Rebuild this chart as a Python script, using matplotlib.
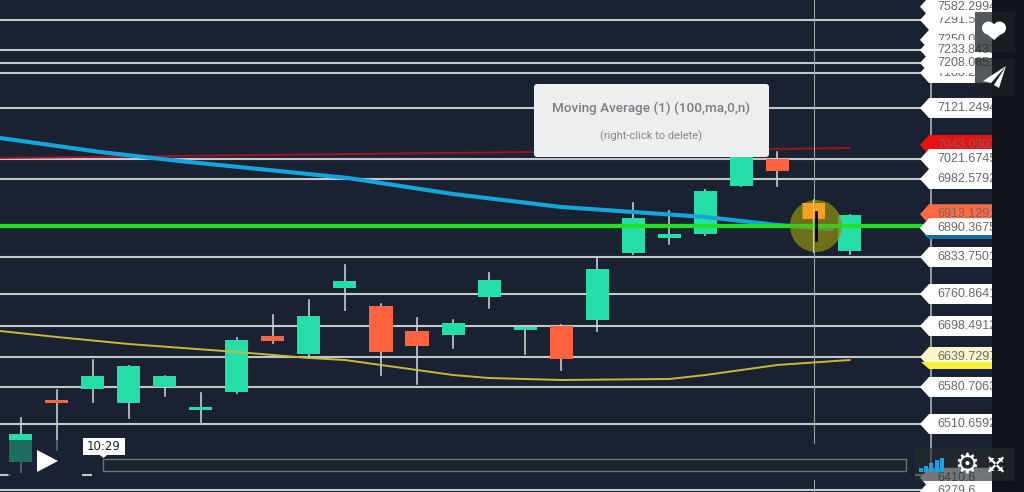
import matplotlib
matplotlib.use("Agg")
import matplotlib.pyplot as plt
from matplotlib.patches import Rectangle, Polygon, Circle, FancyBboxPatch

W, H = 1024, 492
BG = "#1a2130"
PANEL = "#12141c"
GREEN = "#26dfa8"
RED = "#ff6340"
ORANGE = "#f7a021"

# candles, prices
opens = [6434.4, 6554.2, 6575.5, 6548.4, 6579.4, 6534.9, 6569.7, 6677.9, 6643.1, 6770.6, 6735.8, 6687.5,
         6679.8, 6753.2, 6689.5, 6697.2, 6708.8, 6838.2, 6867.2, 6874.9, 6967.7, 7019.8, 6934.8, 6842.1]
closes = [6488.5, 6548.4, 6600.6, 6619.9, 6600.6, 6540.7, 6670.2, 6668.2, 6716.5, 6784.1, 6647.0, 6658.6,
          6703.0, 6786.1, 6695.3, 6633.4, 6807.3, 6905.9, 6874.9, 6958.0, 7037.2, 6996.7, 6903.9, 6911.7]
highs = [6519.5, 6573.6, 6631.5, 6619.9, 6600.6, 6567.8, 6674.0, 6718.5, 6747.4, 6815.1, 6739.7, 6712.7,
         6708.8, 6799.6, 6695.3, 6699.1, 6828.6, 6934.8, 6919.4, 6960.0, 7037.2, 7033.4, 6940.6, 6911.7]
lows = [6409.4, 6457.6, 6550.4, 6519.5, 6562.0, 6511.7, 6567.8, 6664.4, 6637.3, 6728.1, 6602.5, 6585.1,
        6654.7, 6732.0, 6643.1, 6612.2, 6687.5, 6836.3, 6855.6, 6873.0, 6967.7, 6967.7, 6863.4, 6836.3]
candle_colors = [GREEN, RED, GREEN, GREEN, GREEN, GREEN, GREEN, RED, GREEN, GREEN, RED, RED,
                 GREEN, GREEN, GREEN, RED, GREEN, GREEN, GREEN, GREEN, GREEN, RED, ORANGE, GREEN]

# moving averages
blue_x = [-0.57, 2.2, 4.4, 9.1, 12, 15, 17, 19, 21, 22, 22.5]
blue_y = [7060.4, 7033.4, 7016.0, 6983.0, 6952.2, 6927.1, 6917.4, 6907.8, 6892.3, 6886.5, 6884.6]
yellow_x = [-0.57, 1, 3, 6, 8, 9, 11, 12, 13, 15, 18, 19, 20, 21, 23]
yellow_y = [6687.5, 6676.0, 6662.4, 6647.0, 6635.4, 6631.5, 6612.2, 6602.5, 6596.7, 6592.9, 6594.8,
            6602.5, 6612.2, 6621.9, 6631.5]
red_x = [-0.57, 14.3, 23]
red_y = [7021.8, 7033.4, 7041.0]

levels = [7288.4, 7230.4, 7205.3, 7186.0, 7118.4, 7019.8, 6981.2, 6830.5, 6759.0, 6697.2,
          6637.3, 6579.4, 6507.9, 6409.4, 6380.0]
green_level = 6890.37

# axis labels: text, price position, fill colour (later ones sit on top)
label_texts = ["7291.5", "7582.2994", "7250.0", "7188.2", "7233.8431", "7208.0851", "7121.2494", "7043.0301",
               "7021.6745", "6982.5792", "6913.1291", "6890.3675", "6833.7501", "6760.8641", "6698.4912",
               "6639.7297", "6580.7063", "6510.6592", "6410.6", "6279.6"]
label_prices = [7288.4, 7314, 7250, 7186.0, 7230.4, 7205.3, 7118.4, 7047, 7019.8, 6981.2, 6913.13, 6886,
                6830.5, 6759.0, 6697.2, 6637.3, 6579.4, 6507.9, 6404, 6378]
label_colors = ["white", "white", "white", "white", "white", "white", "white", "#ee1010", "white", "white",
                "#ff6a45", "white", "white", "white", "white", "#fdf6c8", "white", "white", "white", "white"]

y_top, y_bottom = 7327.0, 6376.5

fig = plt.figure(figsize=(W / 100, H / 100), dpi=100, facecolor=BG)
ax = fig.add_axes([0, 0, 1, 1], facecolor=BG)
ax.set_xlim(-0.57, 27.84)
ax.set_ylim(y_bottom, y_top)
ax.axis("off")

x_end = (925 - 20.5) / 36.04
for lv in levels:
    ax.plot([-0.57, x_end], [lv, lv], color="#c4c8ce", lw=1.5, zorder=1)
ax.plot(red_x, red_y, color="#9c1423", lw=1.4, zorder=2)

# crosshair
ax.axvline(22, color="#9aa0a8", lw=0.8, zorder=2)

for i in range(len(opens)):
    ax.plot([i, i], [lows[i], highs[i]], color="#c9ccd0", lw=1.2, zorder=4)
    lo = min(opens[i], closes[i])
    ax.add_patch(Rectangle((i - 0.32, lo), 0.64, abs(closes[i] - opens[i]),
                           color=candle_colors[i], lw=0, zorder=5))

ax.plot(blue_x, blue_y, color="#14a5dc", lw=3, zorder=6, solid_capstyle="round")
ax.plot(yellow_x, yellow_y, color="#c9b93a", lw=1.4, zorder=6)
ax.plot([-0.57, x_end], [green_level, green_level], color="#1fe31f", lw=3, zorder=7)

# pixel coordinates on top for the axis strip and the video player
ov = fig.add_axes([0, 0, 1, 1], facecolor="none")
ov.set_xlim(0, W)
ov.set_ylim(H, 0)
ov.axis("off")


def price_y(p):
    return (y_top - p) / (y_top - y_bottom) * H


# highlight round the click
ov.add_patch(Circle((816, 226), 26, color="#8b8b12", alpha=0.75, lw=0, zorder=1))
ov.add_patch(Rectangle((803, 203), 22, 16, color=ORANGE, lw=0, zorder=2))
ov.plot([816, 816], [212, 240], color="black", lw=2, zorder=3)
ov.plot([813, 813], [200, 252], color="#c9ccd0", lw=0.8, zorder=2)
ov.plot([0, 920], [226, 226], color="#1fe31f", lw=3, zorder=2.5, alpha=0.6)

# price axis
ov.plot([931, 931], [0, 492], color="#aeb3ba", lw=1.2, zorder=4)
for txt, p, c in zip(label_texts, label_prices, label_colors):
    y = price_y(p)
    ov.add_patch(Polygon([(920, y), (929, y - 10), (992, y - 10), (992, y + 10), (929, y + 10)],
                         closed=True, color=c, lw=0, zorder=5))
    t = ov.text(937, y, txt, fontsize=9, color="#66696e", family="Liberation Sans",
                va="center", ha="left", zorder=5)
    t.set_clip_path(Rectangle((920, 0), 72, H, transform=ov.transData))
# the blue and yellow edges under two labels
ov.add_patch(Polygon([(924, 235), (929, 239), (992, 239), (992, 235)], color="#0e6fa0", lw=0, zorder=5))
ov.add_patch(Polygon([(921, 362), (929, 369), (992, 369), (992, 362)], color="#f6ee3c", lw=0, zorder=5))

# right side panel
ov.add_patch(Rectangle((992, 0), 32, H, color=PANEL, lw=0, zorder=7))
ov.add_patch(Rectangle((975, 12), 40, 40, color="#1c2024", alpha=0.75, lw=0, zorder=8))
ov.add_patch(Rectangle((975, 58), 40, 38, color="#1c2024", alpha=0.75, lw=0, zorder=8))
# heart
ov.add_patch(Circle((988.5, 28), 6.5, color="white", lw=0, zorder=9))
ov.add_patch(Circle((999.5, 28), 6.5, color="white", lw=0, zorder=9))
ov.add_patch(Polygon([(982.3, 30), (1005.7, 30), (994, 40)], color="white", lw=0, zorder=9))
# paper plane
ov.add_patch(Polygon([(1006, 66), (983, 81), (991, 83), (1006, 66), (994, 85), (999, 88)],
                     color="white", lw=0, zorder=9))

# tooltip
ov.add_patch(FancyBboxPatch((536, 86), 231, 69, boxstyle="round,pad=2,rounding_size=3",
                            fc="#eceef0", ec="none", zorder=10))
ov.text(651, 108, "Moving Average (1) (100,ma,0,n)", fontsize=9.7, color="#7b7d80", family="Roboto",
        fontweight="medium", ha="center", va="center", zorder=11)
ov.text(651, 136, "(right-click to delete)", fontsize=8, color="#85878a", family="Roboto",
        ha="center", va="center", zorder=11)

# player chrome
ov.add_patch(Rectangle((8, 440), 67, 38, color=BG, alpha=0.6, lw=0, zorder=8))
ov.add_patch(Rectangle((10, 473), 72, 5, color=BG, lw=0, zorder=8))
ov.add_patch(Rectangle((92, 444), 823, 36, color=BG, lw=0, zorder=8))
ov.add_patch(Rectangle((915, 448), 100, 33, color="#262b2e", alpha=0.65, lw=0, zorder=8))
ov.add_patch(Polygon([(37, 450), (37, 472), (58, 461)], color="white", lw=0, zorder=9))
ov.add_patch(Rectangle((103, 459), 803, 12, fc="none", ec="#6d7278", lw=1, zorder=9))
ov.add_patch(Rectangle((83, 438), 42, 17, color="white", lw=0, zorder=10))
ov.add_patch(Polygon([(100, 455), (107, 455), (103.5, 458)], color="white", lw=0, zorder=10))
ov.text(104, 446.5, "10:29", fontsize=8.5, color="#222222", family="DejaVu Sans",
        ha="center", va="center", zorder=11)

bar_tops = [468, 466, 463, 460, 458]
for k, top in enumerate(bar_tops):
    ov.add_patch(Rectangle((919 + k * 5.2, top), 4, 472 - top, color="#18a3e6", lw=0, zorder=9))
ov.text(967, 464.5, "\u2699", fontsize=20, color="white", family="DejaVu Sans", ha="center", va="center", zorder=9)
for sx, sy in [(-1, -1), (1, -1), (-1, 1), (1, 1)]:
    cx, cy = 996 + sx * 6.5, 464.5 + sy * 6.5
    ov.add_patch(Polygon([(cx, cy), (cx - sx * 5, cy), (cx, cy - sy * 5)], color="white", lw=0, zorder=9))
    ov.plot([cx, cx - sx * 5], [cy, cy - sy * 5], color="white", lw=1.6, zorder=9)

fig.savefig("out.png", dpi=100, facecolor=BG)
